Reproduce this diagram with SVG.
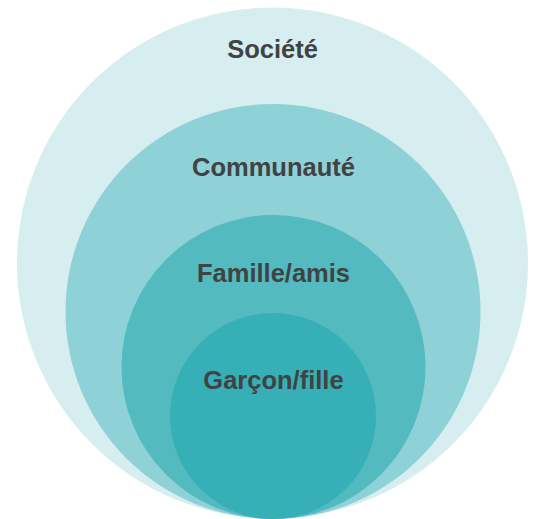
<svg xmlns="http://www.w3.org/2000/svg" width="533" height="519" viewBox="0 0 533 519">
<style>
text{font-family:"Liberation Sans",Arial,sans-serif;font-weight:bold;font-size:25.5px;fill:#404243;text-anchor:middle}
</style>
<rect width="533" height="519" fill="#ffffff"/>
<g id="societe">
<circle cx="272.5" cy="263" r="255.5" fill="#d6eef0"/>
<text x="272.5" y="58">Société</text>
</g>
<g id="communaute">
<circle cx="273" cy="311.5" r="207.5" fill="#8ed1d6"/>
<text x="273.5" y="176">Communauté</text>
</g>
<g id="famille">
<circle cx="273.5" cy="367" r="152" fill="#53babf"/>
<text x="273.5" y="282">Famille/amis</text>
</g>
<g id="garcon">
<circle cx="273" cy="416" r="103" fill="#37afb6"/>
<text x="273.5" y="389">Garçon/fille</text>
</g>
<g id="connectors"/>
</svg>
